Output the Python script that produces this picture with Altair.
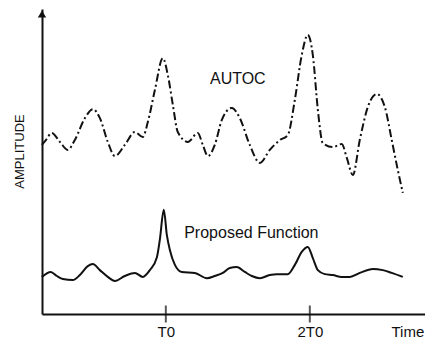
import altair as alt
import pandas as pd

# Time in units of T0, amplitude in arbitrary units
autoc_t = [0.139, 0.167, 0.208, 0.264, 0.319, 0.368, 0.438, 0.493, 0.542, 0.597,
           0.646, 0.715, 0.785, 0.840, 0.875, 0.924, 0.979, 1.014, 1.049, 1.083,
           1.153, 1.222, 1.257, 1.292, 1.340, 1.389, 1.458, 1.514, 1.583, 1.653,
           1.722, 1.792, 1.847, 1.896, 1.944, 1.986, 2.021, 2.056, 2.090, 2.160,
           2.222, 2.257, 2.299, 2.347, 2.403, 2.465, 2.521, 2.569, 2.611, 2.646]
autoc_amp = [56.0, 57.6, 59.9, 57.0, 54.4, 57.6, 64.7, 67.6, 64.7, 57.0,
             52.4, 56.0, 60.2, 58.6, 63.4, 73.8, 84.1, 78.6, 68.9, 60.2,
             57.0, 59.9, 56.0, 52.4, 56.0, 64.1, 68.0, 64.7, 56.0, 50.2,
             54.4, 57.6, 59.2, 70.6, 85.1, 91.6, 85.1, 67.3, 56.6, 55.3,
             56.3, 51.8, 46.3, 57.6, 68.3, 72.5, 68.3, 57.6, 47.9, 40.5]

prop_t = [0.139, 0.201, 0.243, 0.285, 0.354, 0.403, 0.458, 0.493, 0.542, 0.597,
          0.646, 0.715, 0.785, 0.840, 0.889, 0.938, 0.958, 0.986, 1.007, 1.028,
          1.063, 1.111, 1.201, 1.285, 1.340, 1.396, 1.444, 1.493, 1.549, 1.597,
          1.653, 1.722, 1.771, 1.847, 1.896, 1.944, 1.986, 2.021, 2.056, 2.104,
          2.160, 2.222, 2.278, 2.347, 2.438, 2.507, 2.569, 2.646]
prop_amp = [13.3, 14.9, 13.6, 12.6, 12.3, 13.9, 16.8, 17.5, 15.5, 13.3,
            12.0, 13.6, 14.6, 13.3, 15.5, 19.7, 25.2, 35.0, 26.9, 22.0,
            17.2, 14.9, 14.6, 12.9, 13.6, 14.6, 16.2, 16.5, 14.9, 13.6,
            12.9, 13.9, 14.2, 14.2, 17.2, 21.4, 23.0, 19.4, 15.5, 14.2,
            13.9, 13.3, 13.3, 14.6, 15.9, 15.5, 14.6, 13.3]

tick_values = [1, 2]
tick_labels = ["T0", "2T0"]

curve_labels = ["AUTOC", "Proposed Function"]
label_t = [1.5, 1.594]
label_amp = [77.3, 27.5]

x_domain = [0.14, 2.80]
y_domain = [1.3, 100]

FONT = "Liberation Sans"
INK = "#111111"

df_a = pd.DataFrame({"t": autoc_t, "amp": autoc_amp})
df_p = pd.DataFrame({"t": prop_t, "amp": prop_amp})
df_ticks = pd.DataFrame({"t": tick_values, "amp": [y_domain[0]] * len(tick_values)})
df_lab = pd.DataFrame({"t": label_t, "amp": label_amp, "text": curve_labels})
df_arrow = pd.DataFrame({"t": [x_domain[0]], "amp": [y_domain[1]]})

xs = alt.Scale(domain=x_domain, nice=False, zero=False)
ys = alt.Scale(domain=y_domain, nice=False, zero=False)

label_expr = " : ".join(
    f"datum.value == {v} ? '{l}'" for v, l in zip(tick_values, tick_labels)
) + " : ''"

x_axis = alt.Axis(
    values=tick_values, labelExpr=label_expr, ticks=False, grid=False,
    domainColor=INK, domainWidth=2, labelFont=FONT, labelFontSize=15,
    labelColor=INK, labelPadding=10, labelFlush=False,
    title="Time", titleX=349, titleY=17, titleAlign="left",
    titleBaseline="middle", titleFont=FONT, titleFontSize=15,
    titleFontWeight="normal", titleColor=INK,
)
y_axis = alt.Axis(
    labels=False, ticks=False, grid=False, domainColor=INK, domainWidth=2,
    title="AMPLITUDE", titleX=-23, titleY=142, titleAlign="center",
    titleBaseline="middle", titleFont=FONT, titleFontSize=13,
    titleFontWeight="normal", titleColor=INK,
)

X = alt.X("t:Q", scale=xs, axis=x_axis)
Y = alt.Y("amp:Q", scale=ys, axis=y_axis)

autoc = alt.Chart(df_a).mark_line(
    color=INK, strokeWidth=2, strokeDash=[8, 3, 2, 3], interpolate="monotone"
).encode(x=X, y=Y)

prop = alt.Chart(df_p).mark_line(
    color=INK, strokeWidth=2, interpolate="monotone"
).encode(x=X, y=Y)

ticks = alt.Chart(df_ticks).mark_tick(
    orient="vertical", size=17, thickness=2, color=INK
).encode(x=X, y=Y)

arrow = alt.Chart(df_arrow).mark_point(
    shape="triangle-up", filled=True, size=70, color=INK, opacity=1, yOffset=5
).encode(x=X, y=Y)

labels = alt.Chart(df_lab).mark_text(
    font=FONT, fontSize=16, color=INK, align="center", baseline="middle"
).encode(x=X, y=Y, text="text:N")

chart = alt.layer(autoc, prop, ticks, arrow, labels).properties(
    width=383, height=305,
    padding={"left": 34, "top": 1, "right": 0, "bottom": 25},
    autosize=alt.AutoSizeParams(type="none"),
    background="white",
).configure_view(stroke=None)

chart.save("out.html", embed_options={"renderer": "svg", "actions": False})
